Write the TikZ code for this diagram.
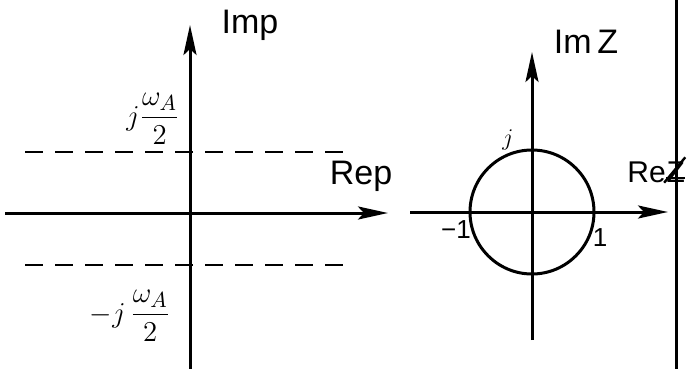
\documentclass[tikz,border=0pt]{standalone}
\usepackage{fontspec}
\setmainfont{Liberation Sans}
\usepackage{amsmath}
\usetikzlibrary{arrows.meta,positioning}

\begin{document}
\begin{tikzpicture}[x=0.5pt, y=-0.5pt,
    axis/.style={line width=1.5pt, -{Stealth[length=15pt, width=6.5pt, inset=3pt]}},
    limit/.style={line width=1.1pt, dash pattern=on 9pt off 6pt},
    lbl/.style={font=\fontsize{17}{19}\selectfont, inner sep=0pt},
    frac/.style={font=\fontsize{15}{17}\selectfont, inner sep=0pt},
    val/.style={font=\fontsize{13}{15}\selectfont, inner sep=0pt}
]
    \useasboundingbox (0,0) rectangle (690,369);

    % s-plane axes
    \coordinate (sW) at (5,213);
    \coordinate (sE) at (388,213);
    \coordinate (sS) at (190,369);
    \coordinate (sN) at (190,25);
    \draw[axis] (sW) -- (sE);
    \draw[axis] (sS) -- (sN);
    \node[lbl] (imP) at (250,25) {Imp};
    \node[lbl] (reP) at (361,176) {Rep};

    % Nyquist limits
    \coordinate (upW) at (25,152);
    \coordinate (upE) at (345,152);
    \coordinate (loW) at (25,265);
    \coordinate (loE) at (345,265);
    \draw[limit] (upW) -- (upE);
    \draw[limit] (loW) -- (loE);
    \node[frac] (upLbl) at (153,119) {$j\dfrac{\omega_A}{2}$};
    \node[frac] (loLbl) at (130,316) {$-j\,\dfrac{\omega_A}{2}$};

    % z-plane axes
    \coordinate (zW) at (410,212);
    \coordinate (zE) at (668,212);
    \coordinate (zS) at (532,340);
    \coordinate (zN) at (532,52);
    \draw[axis] (zW) -- (zE);
    \draw[axis] (zS) -- (zN);
    \node[lbl] (imZ) at (586,42) {Im\,Z};
    \node[lbl, font=\fontsize{15}{17}\selectfont, anchor=west] (reZ) at (627,172) {Re};
    \node[lbl, font=\fontsize{15}{17}\selectfont, anchor=west] (zMark) at (reZ.east) {Z};
    \draw[line width=1.2pt] ([xshift=-1pt]zMark.south west) -- ([yshift=2pt]zMark.north east);
    \draw[line width=1.2pt] ([yshift=-3pt]zMark.west) -- ([yshift=-3pt]zMark.east);

    % unit circle
    \coordinate (zO) at (532,212);
    \node[circle, draw, line width=1.5pt, minimum size=62pt, inner sep=0pt] (unit) at (zO) {};
    \node[val] (jLbl) at (508,140) {$j$};
    \node[val] (mOne) at (456,230) {\textminus1};
    \node[val] (pOne) at (600,238) {1};

    % page edge
    \coordinate (edgeT) at (676,0);
    \coordinate (edgeB) at (676,369);
    \draw[line width=1.5pt] (edgeT) -- (edgeB);
\end{tikzpicture}
\end{document}
